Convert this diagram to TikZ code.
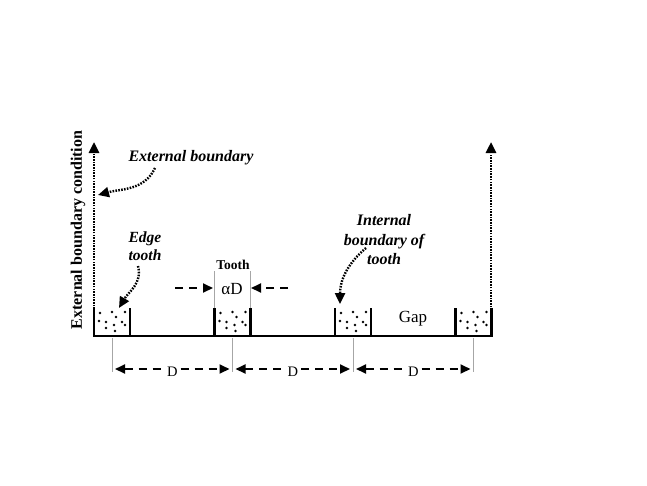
\documentclass[tikz,border=0pt]{standalone}
\usepackage{fontspec}
\setmainfont{Liberation Serif}
\usetikzlibrary{arrows.meta}
\begin{document}
\begin{tikzpicture}[x=1pt,y=-1pt,
  wall/.style={line width=2.8pt},
  thin guide/.style={draw=gray!70,line width=0.5pt},
  dotarrow/.style={line width=2.6pt,dash pattern=on 1.6pt off 1.1pt,-{Triangle[width=10pt,length=11pt]}},
  curvearrow/.style={line width=2.4pt,dash pattern=on 1.6pt off 1.3pt,-{Triangle[width=10pt,length=11pt]}},
  dimarrow/.style={line width=1.9pt,dash pattern=on 8pt off 6pt,{Triangle[width=9pt,length=10pt]}-{Triangle[width=9pt,length=10pt]}},
  halfarrow/.style={line width=1.9pt,dash pattern=on 8pt off 6pt,-{Triangle[width=9pt,length=10pt]}},
  lab/.style={font=\bfseries\itshape\fontsize{15.5}{18}\selectfont,align=center,inner sep=0pt},
  plain/.style={inner sep=0pt}]
\useasboundingbox (0,0) rectangle (647,485);
% teeth
\foreach \n/\L in {1/94,2/214.5,3/335,4/455.5}{
  \coordinate (t\n l) at (\L,308);
  \coordinate (t\n r) at (\L+36,308);
  \coordinate (t\n c) at (\L+18,336);
  \draw[wall,line join=miter] (\L,308) -- (\L,336) -- (\L+36,336) -- (\L+36,308);
  \foreach \dx/\dy in {6/313,18/312,31/312,5/321,12/322,22/317,28/322,20/325,31/325,12/328,21/331}
    \fill (\L+\dx,\dy) circle (1.3);
}
% base line
\draw[wall] (93,336) -- (492,336);
% vertical guides and dimension arrows
\foreach \n in {1,2,3,4}{
  \path (t\n c) ++(0,2) coordinate (gt\n) ++(0,34) coordinate (gb\n);
  \draw[thin guide] (gt\n) -- (gb\n);
}
\foreach \a/\b in {1/2,2/3,3/4}{
  \path (gb\a) ++(3,-3) coordinate (da\a);
  \path (gb\b) ++(-3,-3) coordinate (db\a);
  \draw[dimarrow] (da\a) -- node[fill=white,inner sep=1.5pt,yshift=-3pt,font=\fontsize{14.5}{16}\selectfont] (D\a) {D} (db\a);
}
% boundary arrows
\coordinate (lb) at (94,309);
\coordinate (lt) at (94,142);
\coordinate (rb) at (491,310);
\coordinate (rt) at (491,142);
\draw[dotarrow] (lb) -- (lt);
\draw[dotarrow] (rb) -- (rt);
% rotated label
\node[rotate=90,font=\bfseries\fontsize{16}{18}\selectfont,inner sep=0pt] (ebc) at (78,230) {External boundary condition};
% External boundary
\node[lab,font=\bfseries\itshape\fontsize{16}{18}\selectfont] (eb) at (191,158) {External boundary};
\coordinate (ebt) at (98,195);
\draw[curvearrow] (155,168) to[out=-115,in=15] (ebt);
% Edge tooth
\node[lab] (et) at (145,246) {Edge\\tooth};
\coordinate (ett) at (119,308);
\draw[curvearrow] (138,266) to[out=-75,in=60] (ett);
% Tooth label
\node[font=\bfseries\fontsize{13.5}{16}\selectfont,inner sep=0pt] (tooth) at (233,265) {Tooth};
\node[font=\fontsize{17}{19}\selectfont,inner sep=0pt] (aD) at (232,289) {αD};
\draw[thin guide] (t2l) -- ++(0,-37) coordinate (t2lu);
\draw[thin guide] (t2r) -- ++(0,-37) coordinate (t2ru);
\coordinate (wl) at (175,288);
\coordinate (wr) at (288,288);
\coordinate (wli) at (213,288);
\coordinate (wri) at (251,288);
\draw[halfarrow] (wl) -- (wli);
\draw[halfarrow] (wr) -- (wri);
% Internal boundary
\node[lab,font=\bfseries\itshape\fontsize{16}{19.5}\selectfont] (ib) at (384,240) {Internal\\boundary of\\tooth};
\coordinate (ibt) at (340,304);
\draw[curvearrow] (366,248) to[out=-140,in=90] (ibt);
% Gap
\node[font=\fontsize{17}{19}\selectfont,inner sep=0pt] (gap) at (413,319) {Gap};
\end{tikzpicture}
\end{document}
